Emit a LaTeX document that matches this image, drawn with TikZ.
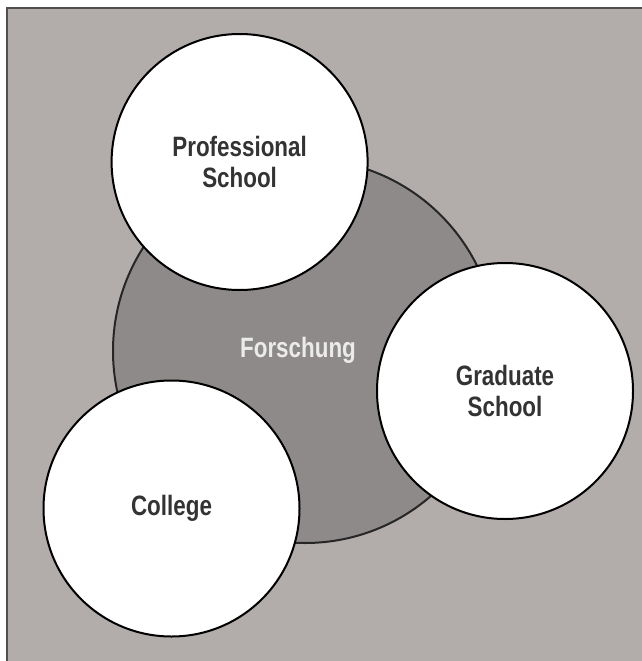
\documentclass[tikz,border=0pt]{standalone}
\usepackage{fontspec}
\setmainfont{Liberation Sans}[FakeStretch=0.8]
\begin{document}
\begin{tikzpicture}[x=1pt,y=-1pt,
  every node/.style={inner sep=0pt},
  label text/.style={font=\bfseries\fontsize{28}{30.5}\selectfont, align=center},
  school/.style={circle, draw=black, line width=2pt, fill=white,
    minimum size=256pt, text=black!80, label text},
  core/.style={circle, draw=black!85, line width=2pt, fill=coreGray,
    minimum size=384pt}]
\definecolor{bgGray}{RGB}{178,172,171}
\definecolor{coreGray}{RGB}{143,138,138}
\definecolor{frameGray}{RGB}{80,78,78}
% canvas and framed panel
\useasboundingbox (0,0) rectangle (642,661);
\fill[white] (0,0) rectangle (642,661);
\fill[bgGray] (7,8) rectangle (642,661);
\draw[frameGray, line width=1.5pt] (7,661) -- (7,8) -- (642,8);
% central research circle
\node[core] (research) at (305,351) {};
\node[label text, text=white!92!black] (researchlabel) at (298,350) {Forschung};
% the three schools around it
\node[school] (professional) at (239.6,162) {Professional\\School};
\node[school] (graduate) at (505,391) {Graduate\\School};
\node[school] (college) at (171.5,508.5) {College};
\end{tikzpicture}
\end{document}
